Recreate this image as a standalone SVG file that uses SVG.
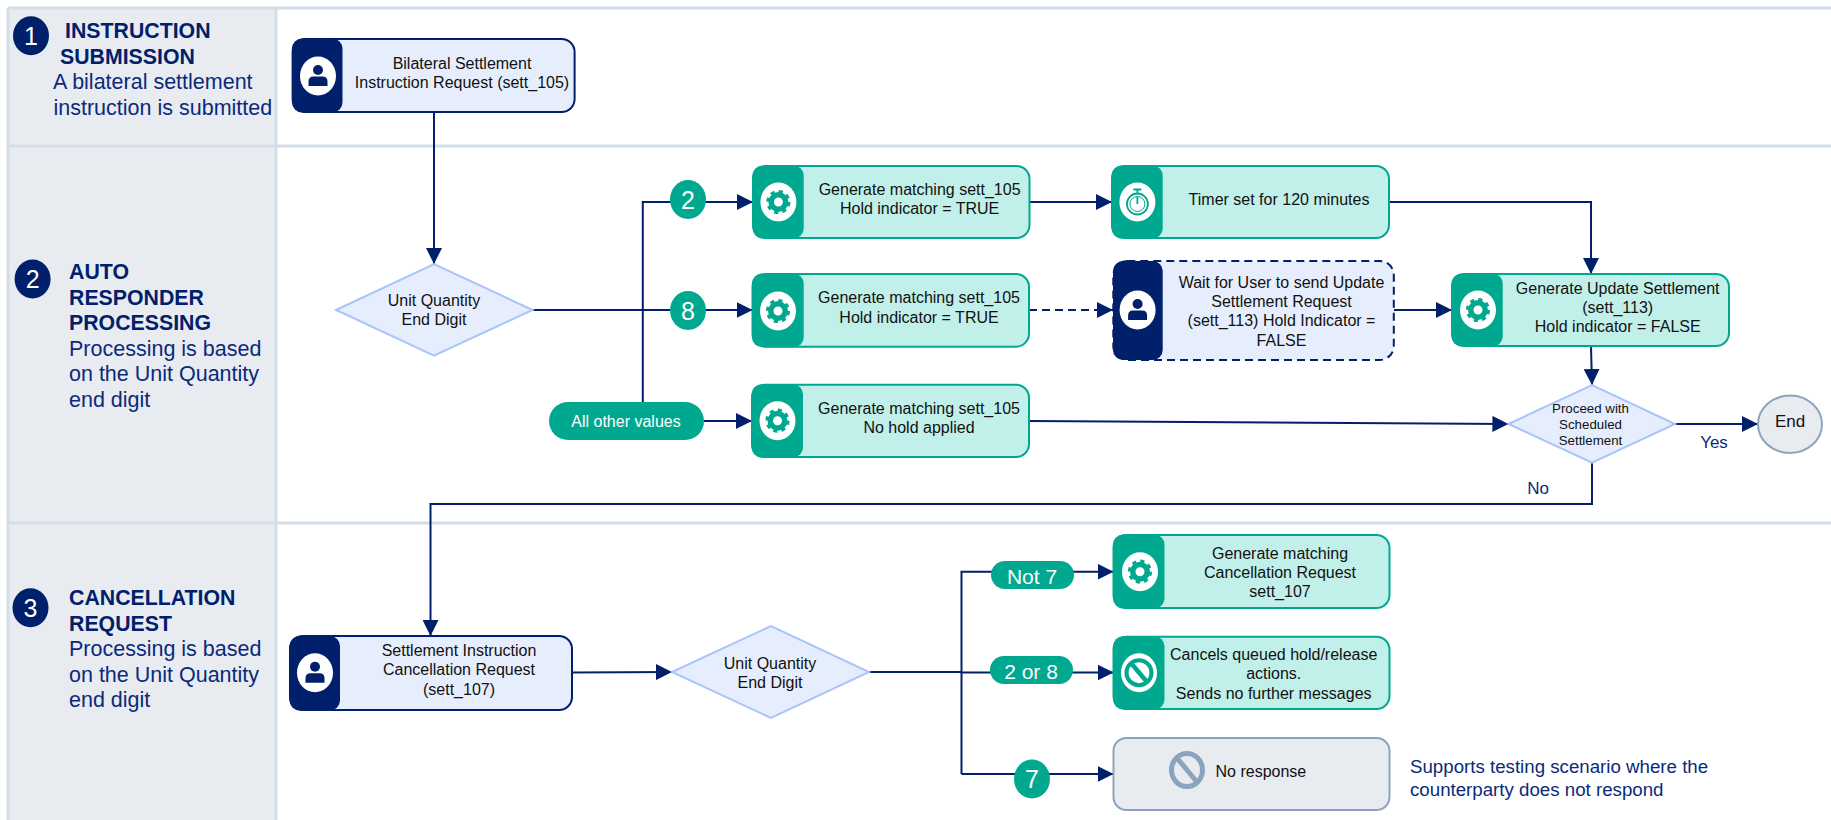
<svg xmlns="http://www.w3.org/2000/svg" xmlns:xlink="http://www.w3.org/1999/xlink" width="1831" height="820" viewBox="0 0 1831 820">
<style>
text{font-family:"Liberation Sans",Arial,sans-serif}
.t{font-size:16px;fill:#111;text-anchor:middle}
.s{font-size:13.300px;fill:#111;text-anchor:middle}
.h{font-size:21.300px;font-weight:bold;fill:#00206b}
.d{font-size:21.500px;fill:#0b2a7a}
.lab{font-size:17px;fill:#0b2a7a;text-anchor:middle}
.note{font-size:18.700px;fill:#0b2a7a}
.num{font-size:25px;fill:#fff;text-anchor:middle}
.pt{fill:#fff;text-anchor:middle}
.lane{fill:#e8ecf1}
.ll{stroke:#d3dee8;stroke-width:3;fill:none}
.green{fill:#c0f0e9;stroke:#00a88f;stroke-width:2}
.gb{fill:#00a88f}
.blue{fill:#e6eefd;stroke:#00206b;stroke-width:2}
.nb{fill:#00206b}
.dash{stroke-dasharray:8 5}
.dia{fill:#e6eefd;stroke:#a9c4fa;stroke-width:2}
.grey{fill:#e8ecf1;stroke:#8ca3bf;stroke-width:2}
.c{fill:none;stroke:#00206b;stroke-width:2;marker-end:url(#a)}
.c0{fill:none;stroke:#00206b;stroke-width:2}
</style>
<defs>
<marker id="a" markerUnits="userSpaceOnUse" markerWidth="16" markerHeight="16" refX="16" refY="8" orient="auto"><path d="M0 0L16 8L0 16Z" fill="#00206b"/></marker>
<g id="gear"><ellipse rx="18" ry="19.500" fill="#fff"/><circle r="7.250" fill="none" stroke="#00a88f" stroke-width="5.500"/><circle r="10.500" fill="none" stroke="#00a88f" stroke-width="3.200" stroke-dasharray="4.120 4.120"/></g>
<g id="person"><ellipse rx="18" ry="19.500" fill="#fff"/><circle cy="-6" r="5" fill="#00206b"/><path d="M-9.500 10V5.500Q-9.500 0.500 -4.500 0.500H4.500Q9.500 0.500 9.500 5.500V10Z" fill="#00206b"/></g>
<g id="timer"><ellipse rx="18" ry="19.500" fill="#fff"/><circle cy="2" r="10.500" fill="none" stroke="#00a88f" stroke-width="1.800"/><circle cy="2" r="7.500" fill="none" stroke="#00a88f" stroke-width="1"/><path d="M-4-12.500H4M0-12.500V-8.500M0 2V-5" fill="none" stroke="#00a88f" stroke-width="1.800"/></g>
</defs>
<g id="lanes">
<rect class="lane" x="8" y="8" width="268" height="812"/>
<path class="ll" d="M8 8H1831M8 146H1831M8 523H1831M8 8V820M276 8V820"/>
</g>
<g id="connectors">
<path class="c" d="M434 112V264"/>
<path class="c0" d="M532.600 310H642.800"/>
<path class="c" d="M642.800 402V202H753"/>
<path class="c" d="M642.800 310H752.500"/>
<path class="c" d="M704 421H752"/>
<path class="c" d="M1029.500 202H1112"/>
<path class="c dash" d="M1029 310H1113"/>
<path class="c" d="M1394 310H1452"/>
<path class="c" d="M1389 202H1591V274"/>
<path class="c" d="M1591 346L1592 385"/>
<path class="c" d="M1029 421L1508.400 424"/>
<path class="c" d="M1675 424H1758"/>
<path class="c" d="M1592 462.700V504H430.500V636"/>
<path class="c" d="M572 672.500L672 672"/>
<path class="c0" d="M869 672H961.500"/>
<path class="c" d="M961.500 774V571.700H1113.500"/>
<path class="c" d="M961.500 672.500H1113.500"/>
<path class="c" d="M961.500 774H1113.500"/>
</g>
<g id="lane1"><ellipse class="nb" cx="31" cy="35.700" rx="18" ry="19.500"/><text class="num" x="31" y="44.500">1</text>
<text class="h" x="65" y="38">INSTRUCTION</text><text class="h" x="60" y="64">SUBMISSION</text><text class="d" x="53" y="89">A bilateral settlement</text><text class="d" x="53.500" y="115">instruction is submitted</text></g>
<g id="lane2"><ellipse class="nb" cx="32.600" cy="279" rx="18" ry="19.500"/><text class="num" x="32.600" y="288">2</text>
<text class="h" x="69" y="279">AUTO</text><text class="h" x="69" y="305">RESPONDER</text><text class="h" x="69" y="330">PROCESSING</text><text class="d" x="69" y="356">Processing is based</text><text class="d" x="69" y="381">on the Unit Quantity</text><text class="d" x="69" y="407">end digit</text></g>
<g id="lane3"><ellipse class="nb" cx="30.500" cy="607.700" rx="18" ry="19.500"/><text class="num" x="30.500" y="616.500">3</text>
<text class="h" x="69" y="605">CANCELLATION</text><text class="h" x="69" y="631">REQUEST</text><text class="d" x="69" y="656">Processing is based</text><text class="d" x="69" y="682">on the Unit Quantity</text><text class="d" x="69" y="707">end digit</text></g>
<g id="n-instruction"><rect class="blue" x="292.600" y="39" width="282" height="73" rx="13"/><rect class="nb" x="292" y="38.500" width="50.500" height="74" rx="10"/><use href="#person" x="318" y="76"/><text class="t" x="462" y="69">Bilateral Settlement</text><text class="t" x="462" y="88">Instruction Request (sett_105)</text></g>
<g id="n-digit1"><path class="dia" d="M336 310L434 264L532.600 310L434 355.700Z"/><text class="t" x="434" y="306">Unit Quantity</text><text class="t" x="434" y="325">End Digit</text></g>
<g id="n-2"><ellipse class="gb" cx="688" cy="199.500" rx="18" ry="19.500"/><text class="num" x="688" y="208.500">2</text></g>
<g id="n-8"><ellipse class="gb" cx="688" cy="310.500" rx="18" ry="19.500"/><text class="num" x="688" y="319.500">8</text></g>
<g id="n-other"><rect class="gb" x="549" y="402" width="155" height="38" rx="19"/><text class="pt" x="626" y="427" font-size="16">All other values</text></g>
<g id="n-gen2"><rect class="green" x="753" y="166" width="276.500" height="72" rx="13"/><rect class="gb" x="752.500" y="165.500" width="51.200" height="73" rx="10"/><use href="#gear" x="778.400" y="202"/><text class="t" x="919.600" y="195">Generate matching sett_105</text><text class="t" x="919.600" y="214">Hold indicator = TRUE</text></g>
<g id="n-gen8"><rect class="green" x="752.500" y="274" width="276.500" height="72.700" rx="13"/><rect class="gb" x="752" y="273.500" width="51.700" height="73.700" rx="10"/><use href="#gear" x="778" y="311"/><text class="t" x="919" y="303">Generate matching sett_105</text><text class="t" x="919" y="322.700">Hold indicator = TRUE</text></g>
<g id="n-genother"><rect class="green" x="752" y="384.700" width="277" height="72.300" rx="13"/><rect class="gb" x="751.500" y="384.200" width="51.500" height="73.300" rx="10"/><use href="#gear" x="777.500" y="420.700"/><text class="t" x="919" y="414">Generate matching sett_105</text><text class="t" x="919" y="433">No hold applied</text></g>
<g id="n-timer"><rect class="green" x="1112" y="166" width="277" height="72" rx="13"/><rect class="gb" x="1111.500" y="165.500" width="51.200" height="73" rx="10"/><use href="#timer" x="1137.400" y="202"/><text class="t" x="1279" y="205">Timer set for 120 minutes</text></g>
<g id="n-wait"><rect class="blue dash" x="1113.300" y="261" width="280.500" height="99" rx="14"/><rect class="nb" x="1113" y="261" width="49.700" height="99" rx="10"/><use href="#person" x="1137.600" y="310"/><text class="t" x="1281.500" y="287.700">Wait for User to send Update</text><text class="t" x="1281.500" y="306.700">Settlement Request</text><text class="t" x="1281.500" y="325.700">(sett_113) Hold Indicator =</text><text class="t" x="1281.500" y="345.700">FALSE</text></g>
<g id="n-update"><rect class="green" x="1452" y="274" width="277" height="72" rx="13"/><rect class="gb" x="1451.500" y="273.500" width="51.200" height="73" rx="10"/><use href="#gear" x="1478" y="310"/><text class="t" x="1617.700" y="294">Generate Update Settlement</text><text class="t" x="1617.700" y="313">(sett_113)</text><text class="t" x="1617.700" y="332">Hold indicator = FALSE</text></g>
<g id="n-proceed"><path class="dia" d="M1508.400 424L1592 385L1675 424L1592 462.700Z"/><text class="s" x="1590.500" y="413">Proceed with</text><text class="s" x="1590.500" y="429">Scheduled</text><text class="s" x="1590.500" y="445">Settlement</text></g>
<g id="n-end"><ellipse class="grey" cx="1790" cy="424.300" rx="32" ry="28.700"/><text class="t" x="1790" y="427" style="font-size:17px">End</text></g>
<g id="edge-labels"><text class="lab" x="1714" y="448">Yes</text><text class="lab" x="1538" y="493.700">No</text></g>
<g id="n-cancel"><rect class="blue" x="290" y="636" width="282" height="74" rx="13"/><rect class="nb" x="289.500" y="636" width="50.500" height="74.500" rx="10"/><use href="#person" x="315" y="672.700"/><text class="t" x="459" y="656">Settlement Instruction</text><text class="t" x="459" y="675">Cancellation Request</text><text class="t" x="459" y="695">(sett_107)</text></g>
<g id="n-digit2"><path class="dia" d="M672 672L771 626L869 672L771 718Z"/><text class="t" x="770" y="669">Unit Quantity</text><text class="t" x="770" y="688">End Digit</text></g>
<g id="n-not7"><rect class="gb" x="991" y="561" width="83" height="28" rx="14"/><text class="pt" x="1032" y="584" font-size="21">Not 7</text></g>
<g id="n-2or8"><rect class="gb" x="990" y="656" width="83" height="28" rx="14"/><text class="pt" x="1031" y="679" font-size="21">2 or 8</text></g>
<g id="n-7"><ellipse class="gb" cx="1032" cy="779" rx="18" ry="19.500"/><text class="num" x="1032" y="788">7</text></g>
<g id="n-gencancel"><rect class="green" x="1113.500" y="535" width="276" height="73" rx="13"/><rect class="gb" x="1113" y="534.500" width="51.500" height="74" rx="10"/><use href="#gear" x="1140" y="571.700"/><text class="t" x="1280" y="559">Generate matching</text><text class="t" x="1280" y="578">Cancellation Request</text><text class="t" x="1280" y="597">sett_107</text></g>
<g id="n-cancels"><rect class="green" x="1113.500" y="636.700" width="276" height="72.300" rx="13"/><rect class="gb" x="1113" y="636.200" width="51.500" height="73.300" rx="10"/><ellipse cx="1139" cy="672.700" rx="18" ry="19.500" fill="#fff"/><circle cx="1139" cy="672.700" r="12.500" fill="none" stroke="#00a88f" stroke-width="4"/><path d="M1131 663L1147 682" stroke="#00a88f" stroke-width="4.500"/><text class="t" x="1273.700" y="660">Cancels queued hold/release</text><text class="t" x="1273.700" y="679">actions.</text><text class="t" x="1273.700" y="699">Sends no further messages</text></g>
<g id="n-noresp"><rect class="grey" x="1113.500" y="738" width="276" height="72" rx="13"/><ellipse cx="1187" cy="770" rx="15.500" ry="16.500" fill="none" stroke="#8ca3bf" stroke-width="5"/><path d="M1177 758L1197 782" stroke="#8ca3bf" stroke-width="5"/><text x="1215.500" y="777" font-size="16" fill="#111">No response</text></g>
<g id="note"><text class="note" x="1410" y="773">Supports testing scenario where the</text><text class="note" x="1410" y="796">counterparty does not respond</text></g>
</svg>
